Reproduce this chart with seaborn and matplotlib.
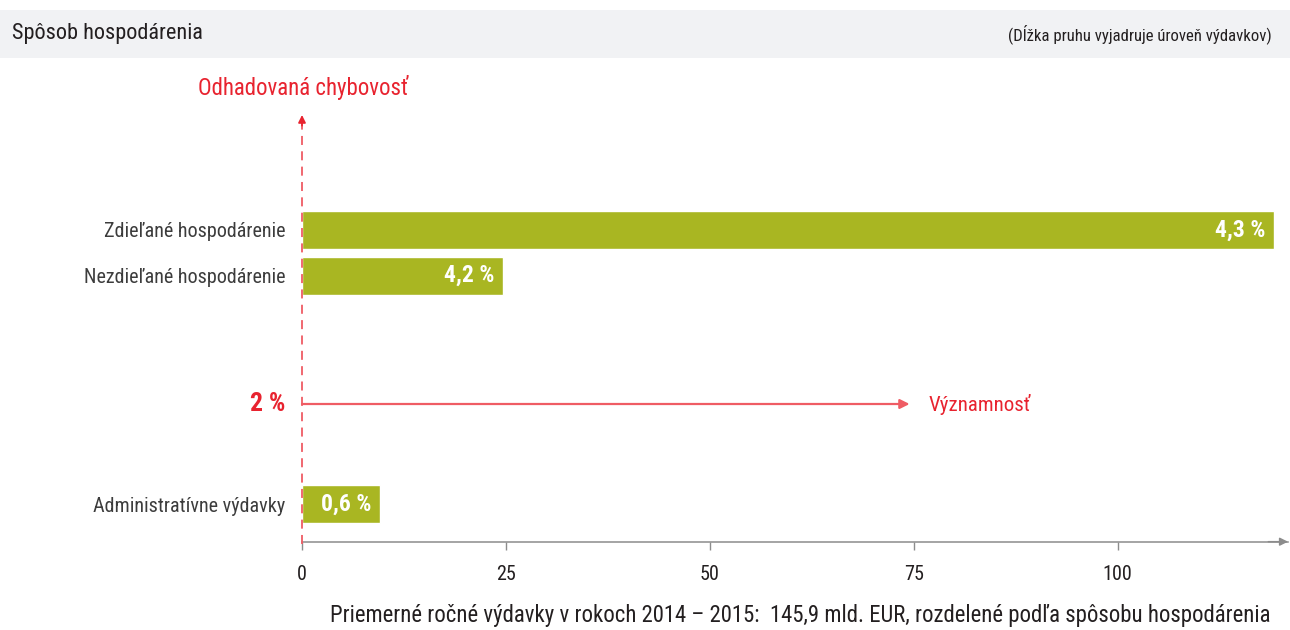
import numpy as np
import pandas as pd
import matplotlib
matplotlib.use("Agg")
import matplotlib.pyplot as plt
import seaborn as sns
from matplotlib.patches import Rectangle

# ---- data ----
categories = ["Zdieľané hospodárenie", "Nezdieľané hospodárenie", "Administratívne výdavky"]
spending = [119.2, 24.7, 9.6]            # bar length = level of spending (mld. EUR)
error_labels = ["4,3 %", "4,2 %", "0,6 %"]
x_ticks = [0, 25, 50, 75, 100]
x_tick_labels = ["0", "25", "50", "75", "100"]
materiality_label = "2 %"
materiality_reach = 74.5

title = "Spôsob hospodárenia"
note = "(Dĺžka pruhu vyjadruje úroveň výdavkov)"
y_title = "Odhadovaná chybovosť"
sig_title = "Významnosť"
x_title = "Priemerné ročné výdavky v rokoch 2014 – 2015:  145,9 mld. EUR, rozdelené podľa spôsobu hospodárenia"

# ---- style ----
sns.set_theme(style="white")
plt.rcParams["font.family"] = ["Roboto Condensed", "Open Sans Condensed",
                               "DejaVu Sans Condensed", "Liberation Sans Narrow",
                               "Roboto", "DejaVu Sans"]
plt.rcParams["font.stretch"] = "condensed"

GREEN = "#a9b622"
RED = "#e8232f"
RED_LIGHT = "#ef5c64"
GREY = "#8c8c8c"
DARK = "#3c3c3c"

# layout slots: two top bars, blank rows, then the administrative bar
order = [categories[0], categories[1], " ", "  ", "   ", "    ", categories[2]]
df = pd.DataFrame({"category": categories, "spending": spending})

fig = plt.figure(figsize=(12.9, 6.3), dpi=100)
W, H = 1290, 630
ax = fig.add_axes([302 / W, 1 - 541.7 / H, (1288 - 302) / W, (541.7 - 115) / H])

sns.barplot(data=df, y="category", x="spending", order=order, orient="h",
            color=GREEN, saturation=1, width=0.832, errorbar=None, ax=ax, zorder=2)

ax.set_xlim(0, 120.9)
ax.set_ylim(6.825, -2.518)

# header band
fig.patches.append(Rectangle((0, 1 - 58 / H), 1, 48 / H, transform=fig.transFigure,
                             facecolor="#f1f2f4", edgecolor="none", zorder=0))
fig.text(12 / W, 1 - 34 / H, title, ha="left", va="center", fontsize=16, color="#231f20")
fig.text(1272 / W, 1 - 34 / H, note, ha="right", va="center", fontsize=12.1, color="#231f20")

# axes styling
for s in ["top", "right", "left"]:
    ax.spines[s].set_visible(False)
ax.spines["bottom"].set_color(GREY)
ax.spines["bottom"].set_linewidth(1.1)
ax.annotate("", xy=(1.0, 0), xytext=(0.98, 0), xycoords="axes fraction",
            arrowprops=dict(arrowstyle="-|>", color=GREY, lw=1.1, mutation_scale=12,
                            shrinkA=0, shrinkB=0))

ax.set_xticks(x_ticks)
ax.set_xticklabels(x_tick_labels)
ax.tick_params(axis="x", bottom=True, length=6, width=1, color=GREY, pad=11,
               labelsize=14.5, labelcolor="#231f20")
ax.set_yticks([0, 1, 6])
ax.set_yticklabels([categories[0], categories[1], categories[2]])
ax.tick_params(axis="y", left=False, length=0, pad=12, labelsize=14.5, labelcolor=DARK)
ax.set_ylabel("")
ax.set_xlabel(x_title, fontsize=16.4, color="#231f20", labelpad=12)
ax.xaxis.set_label_coords((800 - 302) / 986, -0.145)

# bar labels
for pos, (val, lab) in zip([0, 1, 6], zip(spending, error_labels)):
    ax.annotate(lab, xy=(val, pos), xytext=(-6.5, 0), textcoords="offset points",
                ha="right", va="center", color="white", fontsize=17, fontweight="bold")

# vertical dashed error axis with arrow head
ax.plot([0, 0], [6.87, -2.4], ls=(0, (5, 3.5)), color=RED_LIGHT, lw=1.3, zorder=3,
        clip_on=False)
ax.annotate("", xy=(0, 1.0), xytext=(0, 0.975), xycoords="axes fraction",
            arrowprops=dict(arrowstyle="-|>", color=RED, lw=1.2, mutation_scale=11,
                            shrinkA=0, shrinkB=0))
fig.text(303 / W, 1 - 87 / H, y_title, ha="center", va="center", fontsize=16.5, color=RED)

# materiality arrow
y2 = 3.81
ax.annotate("", xy=(materiality_reach, y2), xytext=(0, y2),
            arrowprops=dict(arrowstyle="-|>", color=RED_LIGHT, lw=1.6, mutation_scale=14,
                            shrinkA=0, shrinkB=0))
ax.annotate(materiality_label, xy=(0, y2), xytext=(-12, 0), textcoords="offset points",
            ha="right", va="center", color=RED, fontsize=18.5, fontweight="bold")
ax.annotate(sig_title, xy=(materiality_reach, y2), xytext=(14, 0), textcoords="offset points",
            ha="left", va="center", color=RED, fontsize=15)

fig.savefig("out.png", dpi=100)
